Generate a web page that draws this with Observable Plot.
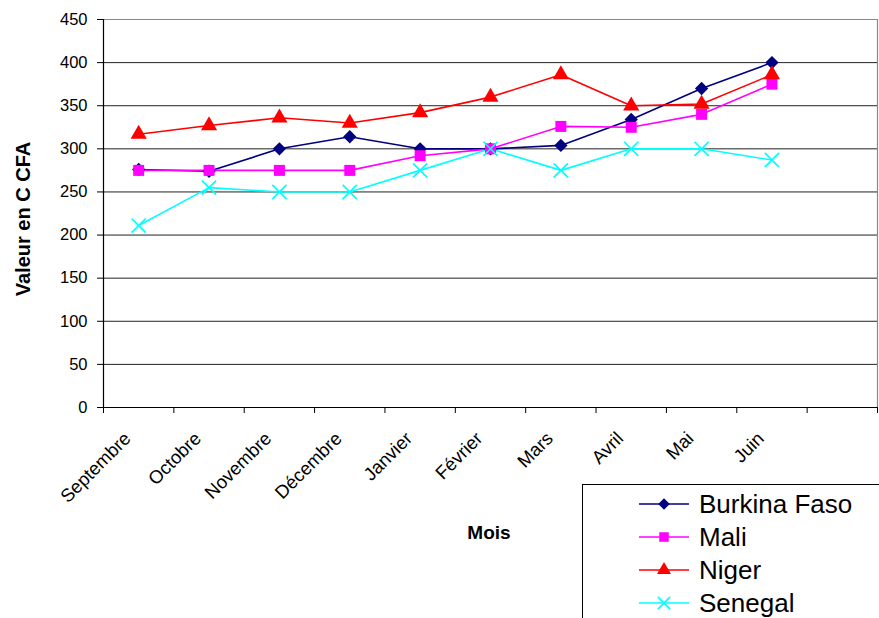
<!DOCTYPE html>
<html>
<head>
<meta charset="utf-8">
<script src="https://cdn.jsdelivr.net/npm/d3@7"></script>
<script src="https://cdn.jsdelivr.net/npm/@observablehq/plot@0.6"></script>
<style>
  html, body { margin: 0; padding: 0; background: #fff; }
  #wrap { position: relative; width: 879px; height: 618px; overflow: hidden; font-family: "Liberation Sans", Arial, sans-serif; }
  #ytitle { position: absolute; left: 23px; top: 219px; transform: translate(-50%, -50%) rotate(-90deg); font-weight: bold; font-size: 20px; white-space: nowrap; }
  #xtitle { position: absolute; left: 489px; top: 533px; transform: translate(-50%, -50%); font-weight: bold; font-size: 19px; }
  #legend { position: absolute; left: 582px; top: 484px; width: 310px; height: 150px; border: 1px solid #000; box-sizing: border-box; background: #fff; }
  .li { position: absolute; left: 55px; height: 30px; display: flex; align-items: center; font-size: 26px; }
  .li svg { margin-right: 9px; }
</style>
</head>
<body>
<div id="wrap">
  <div id="chart"></div>
  <div id="ytitle">Valeur en C CFA</div>
  <div id="xtitle">Mois</div>
  <div id="legend"></div>
</div>
<script>
const months = ["Septembre","Octobre","Novembre","Décembre","Janvier","Février","Mars","Avril","Mai","Juin"];
const burkina = [276, 274, 300, 314, 300, 300, 304, 334, 370, 400];
const mali    = [275, 275, 275, 275, 292, 300, 326, 325, 340, 375];
const niger   = [317, 327, 336, 330, 342, 360, 386, 350, 352, 386];
const senegal = [211, 255, 250, 250, 275, 300, 275, 300, 300, 287];
const seriesNames = ["Burkina Faso", "Mali", "Niger", "Senegal"];
const yTicks = [0, 50, 100, 150, 200, 250, 300, 350, 400, 450];
const nSlots = 11;

const seriesValues = [burkina, mali, niger, senegal];
const styles = {
  "Burkina Faso": {color: "#000080", symbol: "diamond2", r: 6, fill: true},
  "Mali":         {color: "#FF00FF", symbol: "square", r: 6.2, fill: true},
  "Niger":        {color: "#FF0000", symbol: "triangle", r: 6, fill: true},
  "Senegal":      {color: "#00FFFF", symbol: "times", r: 6.5, fill: false}
};

const rows = seriesNames.map((s, k) => months.map((m, i) => ({series: s, month: m, idx: i + 0.5, value: seriesValues[k][i]})));

const marks = [
  Plot.gridY(yTicks.filter(d => d < 450), {stroke: "#222", strokeOpacity: 1, strokeWidth: 1}),
  Plot.ruleY([450], {stroke: "#888", strokeWidth: 1.2}),
  Plot.ruleX([nSlots], {stroke: "#888", strokeWidth: 1.2}),
  Plot.axisY(yTicks, {tickSize: 6, tickPadding: 10, fontSize: 16.5, label: null, stroke: "#000"}),
  Plot.axisX(d3.range(nSlots + 1), {tickSize: 6, tickFormat: () => "", label: null, stroke: "#000"}),
  Plot.axisX(months.map((m, i) => i + 0.5), {tickSize: 0, tickPadding: 28, tickRotate: -45, fontSize: 18.5, dx: -11,
    tickFormat: d => months[Math.floor(d)], label: null}),
  Plot.ruleX([0], {stroke: "#000", strokeWidth: 1.2}),
  Plot.ruleY([0], {stroke: "#000", strokeWidth: 1.2})
];

rows.forEach(data => {
  const st = styles[data[0].series];
  marks.push(Plot.line(data, {x: "idx", y: "value", stroke: st.color, strokeWidth: 1.6}));
});
rows.forEach(data => {
  const st = styles[data[0].series];
  marks.push(Plot.dot(data, st.fill
    ? {x: "idx", y: "value", symbol: () => st.symbol, r: st.r, fill: st.color, stroke: "none"}
    : {x: "idx", y: "value", symbol: () => st.symbol, r: st.r, fill: "none", stroke: st.color, strokeWidth: 1.7}));
});

const chart = Plot.plot({
  width: 879,
  height: 618,
  marginLeft: 103,
  marginRight: 2,
  marginTop: 19,
  marginBottom: 211,
  x: {domain: [0, nSlots], axis: null},
  y: {domain: [0, 450], axis: null},
  symbol: {type: "identity"},
  style: {fontFamily: "'Liberation Sans', Arial, sans-serif", fontSize: "16px", background: "#fff", color: "#000", overflow: "visible"},
  marks
});
document.getElementById("chart").appendChild(chart);

// Legend
const legend = document.getElementById("legend");
const symMap = {diamond2: d3.symbolDiamond2, square: d3.symbolSquare, triangle: d3.symbolTriangle, times: d3.symbolTimes};
seriesNames.forEach((s, k) => {
  const st = styles[s];
  const item = document.createElement("div");
  item.className = "li";
  item.style.top = (4 + k * 33) + "px";
  const path = d3.symbol(symMap[st.symbol], Math.PI * st.r * st.r * 0.75)();
  item.innerHTML = `<svg width="52" height="20"><line x1="1" x2="51" y1="10" y2="10" stroke="${st.color}" stroke-width="1.6"/>` +
    `<path transform="translate(26,10)" d="${path}" fill="${st.fill ? st.color : "none"}" stroke="${st.fill ? "none" : st.color}" stroke-width="1.6"/></svg>` +
    `<span>${s}</span>`;
  legend.appendChild(item);
});
</script>
</body>
</html>
